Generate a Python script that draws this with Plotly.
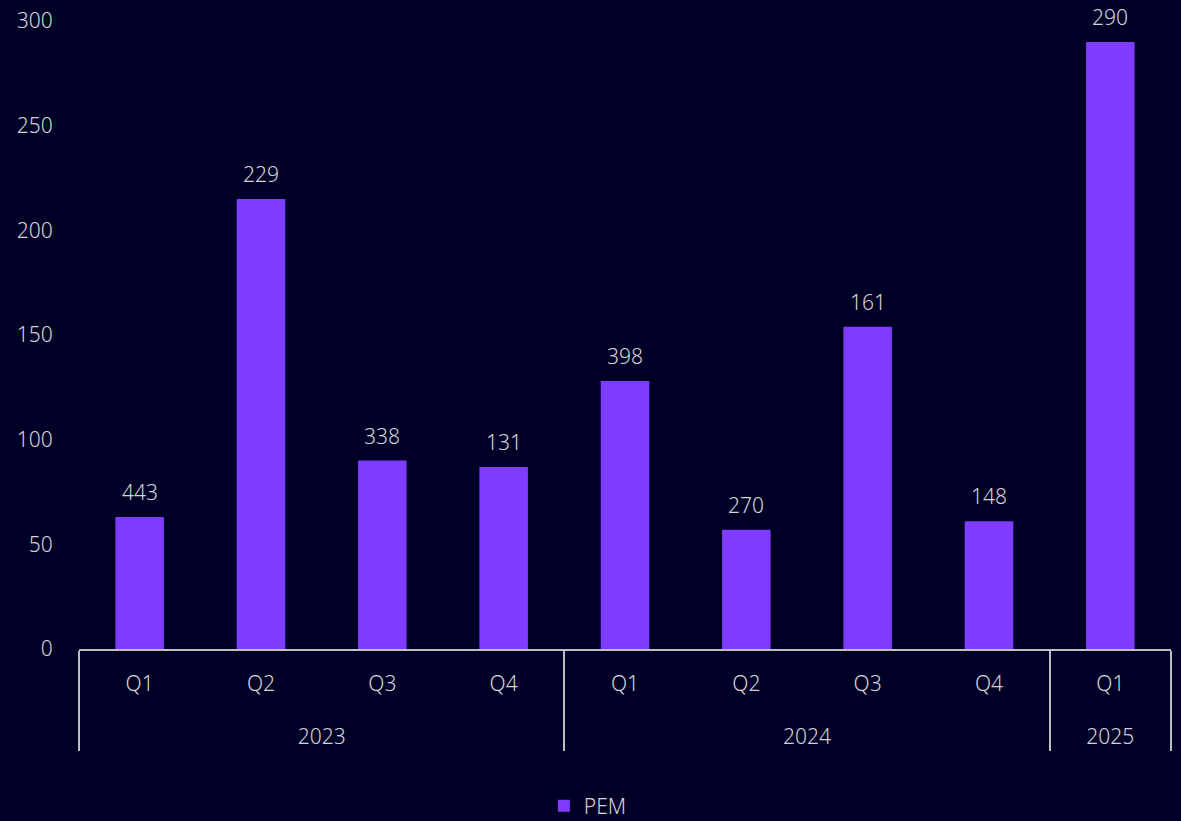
import plotly.graph_objects as go

years = ["2023", "2023", "2023", "2023", "2024", "2024", "2024", "2024", "2025"]
quarters = ["Q1", "Q2", "Q3", "Q4", "Q1", "Q2", "Q3", "Q4", "Q1"]
pem_values = [63, 215, 90, 87, 128, 57, 154, 61, 290]
pem_labels = ["443", "229", "338", "131", "398", "270", "161", "148", "290"]
y_ticks = [0, 50, 100, 150, 200, 250, 300]

BG = "#000026"
BAR = "#7F3BFF"
TXT = "#D4D4D8"
LINE = "#BFBFBF"
FONT = "Noto Sans, Open Sans, sans-serif"
FS = 21

# spacing helpers for the two-level category axis (display only)
SP = "<span style='font-size:28px'>&nbsp;</span>"
year_display = ["<br>" + y for y in years]
quarter_display = [SP + q + SP for q in quarters]

fig = go.Figure()
fig.add_trace(go.Bar(
    x=[year_display, quarter_display],
    y=pem_values,
    name="PEM",
    marker=dict(color=BAR, line=dict(width=0)),
))

for i, (v, lab) in enumerate(zip(pem_values, pem_labels)):
    fig.add_annotation(
        x=i, y=v, text=lab, showarrow=False, yshift=25, yanchor="middle",
        font=dict(size=FS, color=TXT, family=FONT, weight=300),
    )

fig.update_layout(
    width=1181, height=821,
    paper_bgcolor=BG, plot_bgcolor=BG,
    margin=dict(l=79, r=10, t=21, b=172, autoexpand=False),
    bargap=0.6,
    font=dict(family=FONT, color=TXT, size=FS, weight=300),
    showlegend=True,
    legend=dict(orientation="h", x=0.466, xanchor="center", yref="container",
                y=0.018, yanchor="middle", font=dict(size=FS, color=TXT),
                itemwidth=30),
    xaxis=dict(
        type="multicategory", automargin=False,
        showline=True, linecolor=LINE, linewidth=2,
        showgrid=False, ticks="", ticklabelstandoff=15,
        showdividers=True, dividercolor=LINE, dividerwidth=2,
        tickfont=dict(size=FS, color=TXT, family=FONT, weight=300),
    ),
    yaxis=dict(
        range=[0, 300], tickvals=y_ticks, showgrid=False, zeroline=False,
        automargin=False,
        showline=False, ticks="outside", ticklen=21, tickcolor="rgba(0,0,0,0)",
        tickfont=dict(size=FS, color=TXT, family=FONT, weight=300),
    ),
)

fig.write_html(
    "out.html",
    config={"displayModeBar": False},
    post_script="document.body.style.margin='0';document.body.style.background='#000026';",
)
